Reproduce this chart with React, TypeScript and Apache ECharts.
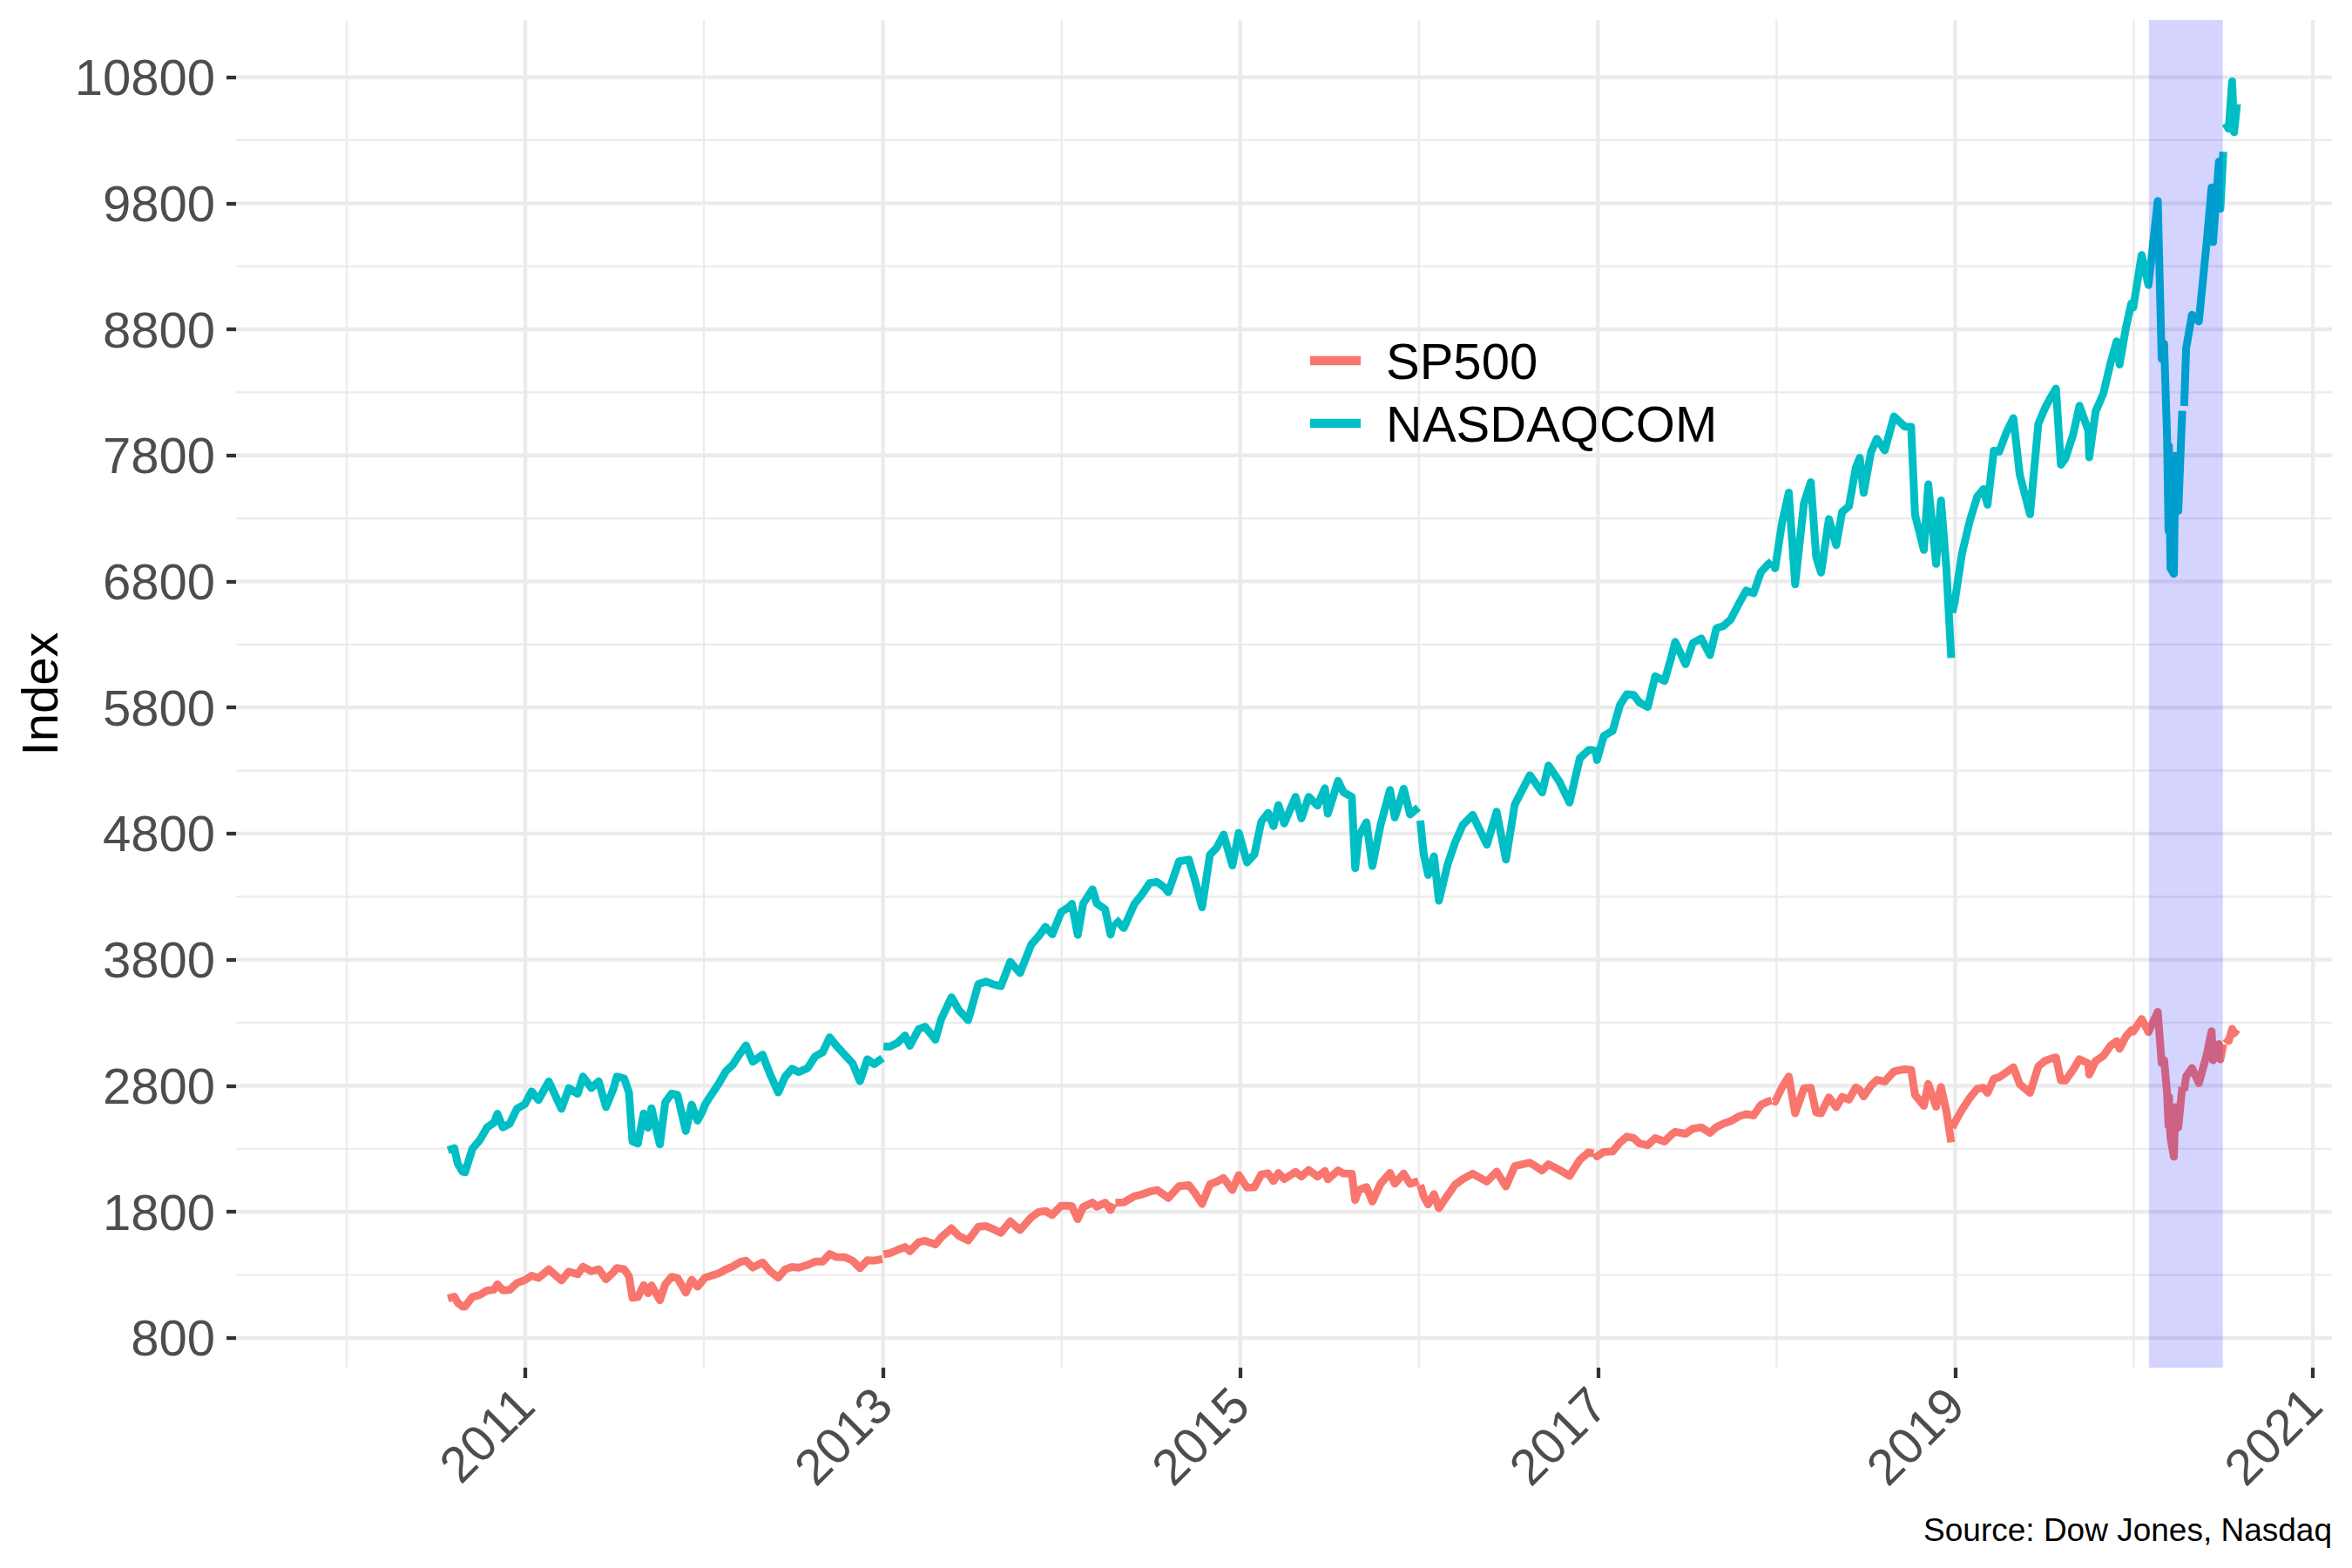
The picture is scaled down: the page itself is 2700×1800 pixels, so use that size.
import React, { useEffect, useRef } from 'react';
import * as echarts from 'echarts';

// ---- Data ----
const dates: string[] = [
  '2010-07-27','2010-08-09','2010-08-16','2010-08-26','2010-08-31','2010-09-15','2010-09-30','2010-10-15','2010-10-29','2010-11-05','2010-11-16','2010-11-30','2010-12-15','2010-12-31',
  '2011-01-14','2011-01-28','2011-02-18','2011-03-16','2011-03-31','2011-04-18','2011-04-29','2011-05-16','2011-05-31','2011-06-15','2011-06-30','2011-07-07','2011-07-22','2011-08-01','2011-08-08','2011-08-19','2011-08-31','2011-09-09','2011-09-16','2011-10-03','2011-10-14','2011-10-27','2011-11-08','2011-11-25','2011-12-07','2011-12-19','2011-12-30',
  '2012-01-03','2012-01-13','2012-01-31','2012-02-15','2012-02-29','2012-03-15','2012-03-27','2012-04-10','2012-04-30','2012-05-15','2012-06-01','2012-06-15','2012-06-29','2012-07-13','2012-07-31','2012-08-15','2012-08-31','2012-09-14','2012-09-28','2012-10-15','2012-10-31','2012-11-15','2012-11-30','2012-12-14','2012-12-31',
  '2013-01-01','2013-01-02','2013-01-15','2013-01-31','2013-02-15','2013-02-25','2013-03-15','2013-03-28','2013-04-18','2013-04-30','2013-05-21','2013-06-05','2013-06-24','2013-07-15','2013-07-31','2013-08-15','2013-08-30','2013-09-18','2013-10-08','2013-10-31','2013-11-15','2013-11-29','2013-12-13','2013-12-31',
  '2014-01-15','2014-01-22','2014-02-03','2014-02-14','2014-03-05','2014-03-14','2014-03-31','2014-04-11','2014-04-17','2014-04-18','2014-04-21','2014-05-08','2014-05-30','2014-06-13','2014-06-30','2014-07-15','2014-07-31','2014-08-07','2014-08-29','2014-09-18','2014-10-01','2014-10-15','2014-10-31','2014-11-14','2014-11-28','2014-12-16','2014-12-29',
  '2015-01-15','2015-01-30','2015-02-13','2015-02-27','2015-03-10','2015-03-20','2015-04-01','2015-04-24','2015-05-06','2015-05-21','2015-06-08','2015-06-23','2015-06-29','2015-07-20','2015-07-31','2015-08-17','2015-08-24','2015-08-31','2015-09-16','2015-09-28','2015-10-15','2015-11-03','2015-11-13','2015-12-01','2015-12-14','2015-12-31',
  '2016-01-01','2016-01-04','2016-01-11','2016-01-20','2016-02-01','2016-02-11','2016-02-29','2016-03-15','2016-03-31','2016-04-20','2016-05-19','2016-06-08','2016-06-27','2016-07-15','2016-08-15','2016-09-09','2016-09-22','2016-10-14','2016-11-04','2016-11-25','2016-12-13','2016-12-23','2016-12-26','2016-12-27','2016-12-30',
  '2017-01-13','2017-01-31','2017-02-15','2017-03-01','2017-03-15','2017-03-27','2017-04-13','2017-04-28','2017-05-17','2017-05-31','2017-06-08','2017-06-29','2017-07-14','2017-07-31','2017-08-18','2017-08-31','2017-09-15','2017-09-29','2017-10-16','2017-10-31','2017-11-15','2017-11-30','2017-12-15','2017-12-22','2017-12-25','2017-12-26','2017-12-29',
  '2018-01-12','2018-01-26','2018-02-08','2018-02-26','2018-03-12','2018-03-23','2018-04-02','2018-04-18','2018-05-03','2018-05-15','2018-05-29','2018-06-12','2018-06-20','2018-06-28','2018-07-13','2018-07-25','2018-08-10','2018-08-29','2018-09-20','2018-10-03','2018-10-11','2018-10-29','2018-11-07','2018-11-23','2018-12-03','2018-12-14','2018-12-24','2018-12-25','2018-12-26','2018-12-31',
  '2019-01-15','2019-01-31','2019-02-15','2019-02-28','2019-03-08','2019-03-21','2019-04-01','2019-04-15','2019-04-30','2019-05-13','2019-06-03','2019-06-20','2019-07-03','2019-07-15','2019-07-26','2019-08-05','2019-08-14','2019-08-30','2019-09-12','2019-09-30','2019-10-02','2019-10-15','2019-10-31','2019-11-15','2019-11-27','2019-12-03','2019-12-16','2019-12-27','2019-12-31',
  '2020-01-17','2020-01-31','2020-02-19','2020-02-27','2020-03-03','2020-03-09','2020-03-12','2020-03-13','2020-03-16','2020-03-23','2020-03-26','2020-04-01','2020-04-09','2020-04-10','2020-04-13','2020-04-17','2020-04-29','2020-05-13','2020-05-29','2020-06-08','2020-06-11','2020-06-23','2020-06-26','2020-07-02','2020-07-03','2020-07-06','2020-07-13','2020-07-20','2020-07-24','2020-07-30',
];

const sp500: (number | null)[] = [
  1113,1127,1079,1047,1049,1125,1141,1176,1183,1225,1178,1180,1235,1258,
  1293,1276,1343,1256,1326,1305,1364,1329,1345,1265,1321,1354,1345,1287,1119,1124,1219,1154,1216,1099,1224,1285,1275,1159,1261,1206,1258,
  1277,1289,1312,1343,1366,1402,1412,1358,1398,1330,1278,1343,1362,1357,1379,1405,1406,1465,1441,1440,1412,1353,1416,1413,1426,
  null,1462,1472,1498,1520,1488,1560,1569,1541,1598,1669,1609,1573,1682,1686,1661,1633,1725,1655,1757,1798,1806,1775,1848,
  1848,1844,1742,1838,1873,1841,1872,1815,1864,null,1872,1875,1924,1937,1960,1973,1931,1910,2003,2011,1946,1862,2018,2039,2068,1973,2091,
  1993,1995,2097,2105,2044,2108,2060,2117,2080,2131,2080,2124,2058,2128,2104,2102,1893,1972,1996,1882,2024,2109,2023,2103,2022,2044,
  null,2013,1923,1859,1940,1829,1932,2015,2060,2102,2040,2119,2001,2162,2190,2128,2177,2133,2085,2213,2272,2263,null,2268,2239,
  2275,2279,2349,2396,2385,2342,2329,2384,2357,2412,2434,2419,2459,2470,2426,2472,2500,2519,2557,2575,2564,2648,2676,2683,null,2680,2674,
  2786,2873,2581,2780,2783,2588,2582,2708,2630,2711,2690,2787,2767,2716,2801,2846,2833,2914,2931,2925,2728,2641,2814,2633,2790,2600,2351,null,2467,2507,
  2610,2704,2776,2784,2743,2855,2867,2906,2946,2812,2744,2954,2996,3014,3025,2844,2840,2926,3010,2977,2888,2996,3038,3120,3154,3093,3191,3240,3231,
  3330,3226,3386,2979,3003,2747,2481,2711,2386,2237,2630,2471,2790,null,2762,2875,2940,2820,3044,3232,3002,3131,3009,3130,null,3180,3155,3251,3216,3246,
];

const nasdaq: (number | null)[] = [
  2288,2305,2181,2118,2114,2301,2369,2469,2507,2578,2470,2498,2618,2653,
  2755,2687,2834,2617,2781,2736,2873,2782,2835,2631,2774,2872,2859,2744,2358,2341,2580,2467,2622,2335,2668,2738,2727,2441,2650,2523,2605,
  2648,2710,2814,2915,2967,3056,3120,2991,3046,2893,2747,2872,2935,2908,2940,3031,3067,3184,3116,3044,2977,2836,3010,2971,3020,
  null,3112,3110,3142,3198,3117,3249,3268,3166,3329,3502,3401,3320,3607,3626,3603,3590,3783,3694,3920,3986,4060,4001,4177,
  4215,4243,3997,4244,4358,4246,4199,3999,4095,null,4121,4051,4243,4311,4408,4416,4370,4335,4580,4593,4423,4215,4631,4689,4792,4547,4806,
  4571,4635,4894,4964,4859,5026,4880,5092,4920,5091,5022,5160,4958,5219,5128,5092,4526,4777,4889,4543,4871,5146,4927,5156,4952,5007,
  null,4903,4637,4472,4620,4267,4558,4729,4870,4948,4712,4974,4594,5030,5263,5126,5340,5214,5046,5398,5463,5462,null,5488,5383,
  5574,5615,5819,5905,5900,5840,5805,6048,6011,6199,6321,6144,6312,6348,6216,6429,6448,6496,6624,6728,6706,6874,6937,6960,null,6937,6903,
  7261,7505,6777,7421,7588,6993,6870,7295,7088,7351,7397,7703,7781,7503,7826,7932,7839,8109,8028,8026,7329,7050,7570,6939,7442,6910,6193,null,6555,6635,
  7023,7282,7472,7533,7408,7838,7829,7976,8095,7647,7333,8051,8170,8258,8330,7726,7773,7963,8194,7999,7785,8148,8292,8540,8705,8521,8814,9006,8973,
  9389,9151,9817,8566,8684,7950,7201,7875,6904,6860,7797,7360,8153,null,8192,8650,8915,8863,9490,9925,9492,10131,9757,10208,null,10434,10391,10767,10363,10587,
];

const seriesNames = ['SP500', 'NASDAQCOM'];
const seriesColors = ['#F8766D', '#00BFC4'];

const yTicks = [800, 1800, 2800, 3800, 4800, 5800, 6800, 7800, 8800, 9800, 10800];
const yMinor = [1300, 2300, 3300, 4300, 5300, 6300, 7300, 8300, 9300, 10300];
const xTicks = ['2011-01-01', '2013-01-01', '2015-01-01', '2017-01-01', '2019-01-01', '2021-01-01'];
const xMinor = ['2010-01-01', '2012-01-01', '2014-01-01', '2016-01-01', '2018-01-01', '2020-01-01'];
const highlight = ['2020-02-01', '2020-07-01'];

const X_MIN = '2009-05-20';
const X_MAX = '2021-02-09';
const Y_MIN = 564;
const Y_MAX = 11253;

const FONT = '"Liberation Sans", Arial, Helvetica, sans-serif';

function ts(s: string): number {
  const [y, m, d] = s.split('-').map(Number);
  return new Date(y, m - 1, d).getTime();
}

function hLines(values: number[], width: number) {
  return {
    type: 'custom',
    silent: true,
    z: 1,
    encode: { x: 0, y: 1 },
    data: values.map((v) => [ts(X_MIN), v]),
    renderItem: (params: any, api: any) => {
      const cs = params.coordSys;
      const p = api.coord([api.value(0), api.value(1)]);
      return {
        type: 'line',
        shape: { x1: cs.x, y1: p[1], x2: cs.x + cs.width, y2: p[1] },
        style: { stroke: '#EBEBEB', lineWidth: width },
      };
    },
  };
}

function vLines(values: string[], width: number) {
  return {
    type: 'custom',
    silent: true,
    z: 1,
    encode: { x: 0, y: 1 },
    data: values.map((d) => [ts(d), Y_MIN]),
    renderItem: (params: any, api: any) => {
      const cs = params.coordSys;
      const p = api.coord([api.value(0), api.value(1)]);
      return {
        type: 'line',
        shape: { x1: p[0], y1: cs.y, x2: p[0], y2: cs.y + cs.height },
        style: { stroke: '#EBEBEB', lineWidth: width },
      };
    },
  };
}

export default function App() {
  const ref = useRef<HTMLDivElement>(null);

  useEffect(() => {
    if (!ref.current) return;
    const chart = echarts.init(ref.current, null, { renderer: 'svg' });
    const seriesData = [sp500, nasdaq];

    const option: any = {
      animation: false,
      backgroundColor: '#FFFFFF',
      grid: { left: 271, right: 23, top: 23, bottom: 230 },
      xAxis: {
        type: 'value',
        min: ts(X_MIN),
        max: ts(X_MAX),
        splitLine: { show: false },
        axisLine: { show: false },
        axisTick: {
          show: true,
          customValues: xTicks.map(ts),
          length: 12,
          lineStyle: { color: '#333333', width: 4.3 },
        },
        axisLabel: {
          customValues: xTicks.map(ts),
          formatter: (v: number) => String(new Date(v).getFullYear()),
          rotate: 45,
          margin: 33,
          fontSize: 58,
          color: '#4D4D4D',
          fontFamily: FONT,
        },
      },
      yAxis: {
        type: 'value',
        min: Y_MIN,
        max: Y_MAX,
        splitLine: { show: false },
        axisLine: { show: false },
        axisTick: {
          show: true,
          customValues: yTicks,
          length: 11,
          lineStyle: { color: '#333333', width: 4.3 },
        },
        axisLabel: {
          customValues: yTicks,
          formatter: (v: number) => String(v),
          margin: 24,
          fontSize: 58,
          color: '#4D4D4D',
          fontFamily: FONT,
        },
        name: 'Index',
        nameLocation: 'middle',
        nameRotate: 90,
        nameGap: 195,
        nameTextStyle: { fontSize: 58, color: '#000000', fontFamily: FONT },
      },
      series: [
        hLines(yMinor, 2.2),
        vLines(xMinor, 2.2),
        hLines(yTicks, 4.3),
        vLines(xTicks, 4.3),
        ...seriesNames.map((name, si) => ({
          name,
          type: 'line',
          z: 2,
          showSymbol: false,
          symbol: 'none',
          connectNulls: false,
          color: seriesColors[si],
          lineStyle: { color: seriesColors[si], width: 9, cap: 'butt', join: 'round' },
          data: dates.map((d, i) => [ts(d), seriesData[si][i] === null ? '-' : seriesData[si][i]]),
        })),
        {
          type: 'custom',
          silent: true,
          z: 10,
          encode: { x: [0, 1] },
          data: [highlight.map(ts)],
          renderItem: (params: any, api: any) => {
            const cs = params.coordSys;
            const a = api.coord([api.value(0), Y_MIN])[0];
            const b = api.coord([api.value(1), Y_MIN])[0];
            return {
              type: 'rect',
              shape: { x: a, y: cs.y, width: b - a, height: cs.height },
              style: { fill: 'rgba(0,0,255,0.17)' },
            };
          },
        },
      ],
      graphic: [
        {
          type: 'group',
          left: 1474,
          top: 332,
          z: 20,
          children: [
            { type: 'rect', shape: { x: 0, y: 0, width: 523, height: 213 }, style: { fill: '#FFFFFF' } },
            { type: 'line', shape: { x1: 30, y1: 82, x2: 88, y2: 82 }, style: { stroke: seriesColors[0], lineWidth: 10.5 } },
            { type: 'line', shape: { x1: 30, y1: 154, x2: 88, y2: 154 }, style: { stroke: seriesColors[1], lineWidth: 10.5 } },
            { type: 'text', x: 117, y: 82, style: { text: seriesNames[0], fontSize: 58, fontFamily: FONT, fill: '#000000', verticalAlign: 'middle', align: 'left' } },
            { type: 'text', x: 117, y: 154, style: { text: seriesNames[1], fontSize: 58, fontFamily: FONT, fill: '#000000', verticalAlign: 'middle', align: 'left' } },
          ],
        },
        {
          type: 'text',
          right: 23,
          top: 1738,
          style: { text: 'Source: Dow Jones, Nasdaq', fontSize: 37, fontFamily: FONT, fill: '#000000' },
        },
      ],
    };

    chart.setOption(option);
    return () => chart.dispose();
  }, []);

  return (
    <div
      ref={ref}
      style={{ position: 'absolute', left: 0, top: 0, width: 2700, height: 1800 }}
    />
  );
}
